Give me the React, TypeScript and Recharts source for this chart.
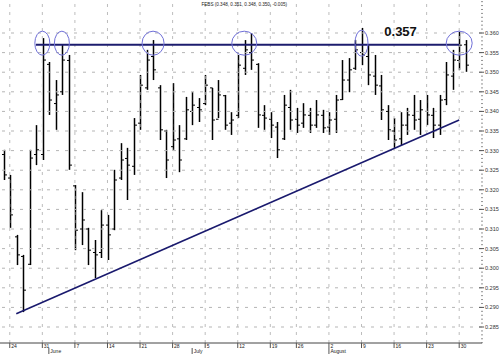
import React from 'react';
import { ComposedChart, Bar, XAxis, YAxis, ReferenceLine, ReferenceDot } from 'recharts';

// trading days (last two are empty slots at the right edge)
const dates = [
  '05-21', '05-24', '05-25', '05-26', '05-27', '05-28',
  '05-31', '06-01', '06-02', '06-03', '06-04',
  '06-07', '06-08', '06-09', '06-10', '06-11',
  '06-14', '06-15', '06-16', '06-17', '06-18',
  '06-21', '06-22', '06-23', '06-24', '06-25',
  '06-28', '06-29', '06-30', '07-01', '07-02',
  '07-05', '07-06', '07-07', '07-08', '07-09',
  '07-12', '07-13', '07-14', '07-15', '07-16',
  '07-19', '07-20', '07-21', '07-22',
  '07-26', '07-27', '07-28', '07-29', '07-30',
  '08-02', '08-03', '08-04', '08-05', '08-06',
  '08-09', '08-10', '08-11', '08-12', '08-13',
  '08-16', '08-17', '08-18', '08-19', '08-20',
  '08-23', '08-24', '08-25', '08-26', '08-27',
  '08-30', '08-31', '09-01', '09-02',
];

const opens = [
  0.329, 0.323, 0.308, 0.303, 0.301, 0.329, 0.329, 0.352, 0.342, 0.345,
  0.353, 0.321, 0.31, 0.31, 0.304, 0.304, 0.311, 0.31, 0.323, 0.328,
  0.326, 0.337, 0.346, 0.354, 0.346, 0.335, 0.331, 0.333, 0.333, 0.34,
  0.341, 0.342, 0.346, 0.338, 0.344, 0.337, 0.339, 0.351, 0.355, 0.352,
  0.339, 0.338, 0.336, 0.333, 0.341, 0.338, 0.337, 0.339, 0.3365, 0.339,
  0.336, 0.338, 0.343, 0.348, 0.351, 0.355, 0.354, 0.349, 0.3465, 0.34,
  0.335, 0.333, 0.3365, 0.339, 0.338, 0.34, 0.339, 0.3365, 0.343, 0.349,
  0.353, 0.357,
];
const highs = [
  0.3302, 0.3238, 0.3085, 0.3034, 0.3302, 0.3365, 0.3587, 0.3526, 0.348, 0.3572,
  0.3544, 0.3212, 0.3194, 0.3103, 0.3072, 0.3148, 0.3136, 0.3251, 0.3319, 0.3307,
  0.3383, 0.3493, 0.3557, 0.3582, 0.3467, 0.3353, 0.3472, 0.3365, 0.3437, 0.3449,
  0.3434, 0.3493, 0.346, 0.348, 0.3442, 0.3398, 0.3544, 0.3582, 0.36, 0.3523,
  0.3416, 0.3398, 0.3373, 0.3442, 0.3455, 0.3409, 0.3421, 0.3409, 0.3429, 0.3404,
  0.3398, 0.3442, 0.3531, 0.3536, 0.3582, 0.3613, 0.3569, 0.3544, 0.3493, 0.3416,
  0.3383, 0.3398, 0.3409, 0.3442, 0.3429, 0.3442, 0.3409, 0.3442, 0.3526, 0.3557,
  0.3603, 0.3582,
];
const lows = [
  0.3225, 0.3103, 0.3008, 0.2888, 0.3008, 0.3263, 0.3276, 0.3391, 0.3353, 0.3442,
  0.3251, 0.3046, 0.3059, 0.3008, 0.2975, 0.3026, 0.3021, 0.3097, 0.3225, 0.3174,
  0.3238, 0.3353, 0.3455, 0.348, 0.3327, 0.323, 0.3302, 0.3245, 0.3327, 0.3365,
  0.3373, 0.3416, 0.3327, 0.3383, 0.3353, 0.334, 0.3383, 0.3493, 0.3506, 0.3358,
  0.3353, 0.3332, 0.3281, 0.3327, 0.3353, 0.3345, 0.3358, 0.3345, 0.3358, 0.3345,
  0.334, 0.3345, 0.3429, 0.3449, 0.3506, 0.3518, 0.3467, 0.3442, 0.3378, 0.3327,
  0.3307, 0.3314, 0.334, 0.3353, 0.334, 0.3365, 0.3332, 0.334, 0.3416, 0.3455,
  0.3506, 0.3501,
];
const closes = [
  0.3238, 0.3136, 0.3034, 0.2944, 0.3281, 0.3302, 0.3531, 0.3429, 0.3442, 0.3531,
  0.3263, 0.3097, 0.3123, 0.3046, 0.3034, 0.311, 0.3085, 0.3225, 0.3276, 0.3263,
  0.3365, 0.3467, 0.3531, 0.3506, 0.3353, 0.3276, 0.3327, 0.3276, 0.3404, 0.3416,
  0.3404, 0.3467, 0.3378, 0.3442, 0.3365, 0.3378, 0.3518, 0.3557, 0.3531, 0.3391,
  0.3383, 0.3365, 0.3302, 0.3416, 0.3378, 0.3365, 0.3391, 0.3365, 0.3391, 0.3358,
  0.3378, 0.3429, 0.348, 0.3506, 0.3557, 0.3544, 0.3493, 0.3467, 0.3404, 0.3353,
  0.3327, 0.3365, 0.3391, 0.3378, 0.3404, 0.3391, 0.3365, 0.3429, 0.3493, 0.3531,
  0.3569, 0.3518,
];

const weekTicks = ['05-24', '05-31', '06-07', '06-14', '06-21', '06-28', '07-05', '07-12', '07-19', '07-26', '08-02', '08-09', '08-16', '08-23', '08-30'];
const weekLabels = ['24', '31', '7', '14', '21', '28', '5', '12', '19', '26', '2', '9', '16', '23', '30'];
const monthTicks = ['06-01', '07-01', '08-02'];
const monthLabels = ['June', 'July', 'August'];

const yMajor = [0.285, 0.29, 0.295, 0.3, 0.305, 0.31, 0.315, 0.32, 0.325, 0.33, 0.335, 0.34, 0.345, 0.35, 0.355, 0.36];
const yTicks = Array.from({ length: 88 }, (_, k) => Number((0.281 + k * 0.001).toFixed(3)));

const resistance = 0.357;
const resistanceFrom = '05-28';
const resistanceTo = '08-30';
const trendStart = { d: '05-25', v: 0.2884 };
const trendEnd = { d: '08-30', v: 0.3378 };
const peakDates = ['05-31', '06-03', '06-23', '07-13', '08-09', '08-30'];
const peakRx = [7.5, 7.5, 11, 12.5, 6.5, 13];
const peakRy = [12, 12, 12, 12, 13, 12];
const title = 'FEBS (0.348, 0.351, 0.348, 0.350, -0.005)';

const data = dates.map((d, i) => ({ d, open: opens[i], high: highs[i], low: lows[i], close: closes[i] }));

const OHLCBar = (props: any) => {
  const { x, y, width, height, payload } = props;
  if (payload.high == null || height == null) return null;
  const top = Math.min(y, y + height);
  const h = Math.abs(height);
  const cx = Math.round(x + width / 2) + 0.5;
  const span = payload.high - payload.low;
  const yo = top + (h * (payload.high - payload.open)) / span;
  const yc = top + (h * (payload.high - payload.close)) / span;
  return (
    <g>
      <line x1={cx} x2={cx} y1={top} y2={top + h} stroke="#000" strokeWidth={1.5} />
      <line x1={cx - 2.5} x2={cx} y1={yo} y2={yo} stroke="#000" strokeWidth={1} />
      <line x1={cx} x2={cx + 2.5} y1={yc} y2={yc} stroke="#000" strokeWidth={1} />
    </g>
  );
};

const XTick = (props: any) => {
  const { x, y, payload } = props;
  const wi = weekTicks.indexOf(payload.value);
  const mi = monthTicks.indexOf(payload.value);
  return (
    <g>
      {wi >= 0 && (
        <g>
          <line x1={x} x2={x} y1={y} y2={y + 5} stroke="#555" />
          <text x={x + 1.5} y={y + 4.8} fontSize={5} fill="#222">{weekLabels[wi]}</text>
        </g>
      )}
      {mi >= 0 && (
        <g>
          <line x1={x} x2={x} y1={y + 5} y2={y + 11} stroke="#555" />
          <text x={x + 1.5} y={y + 10.3} fontSize={5} fill="#222">{monthLabels[mi]}</text>
        </g>
      )}
    </g>
  );
};

const YTick = (props: any) => {
  const { x, y, payload } = props;
  const v = payload.value;
  const major = yMajor.some((m) => Math.abs(m - v) < 1e-6);
  if (!major) {
    return <line x1={x - 1} x2={x + 1} y1={y} y2={y} stroke="#777" strokeWidth={0.8} />;
  }
  return (
    <g>
      <line x1={x - 3} x2={x + 2} y1={y} y2={y} stroke="#555" />
      <text x={x + 3} y={y + 2} fontSize={5.5} fill="#333">{v.toFixed(3)}</text>
    </g>
  );
};

export default function App() {
  return (
    <div style={{ position: 'absolute', left: 0, top: 0, background: '#fff' }}>
      <ComposedChart
        width={500}
        height={354}
        data={data}
        margin={{ top: 0, right: 0, bottom: 0, left: 0 }}
        style={{ fontFamily: '"Liberation Sans", Arial, sans-serif' }}
      >
        <XAxis
          dataKey="d"
          ticks={[...weekTicks, '06-01', '07-01']}
          interval={0}
          tick={<XTick />}
          tickLine={false}
          tickSize={0}
          tickMargin={0}
          height={11}
          axisLine={{ stroke: '#444' }}
        />
        <YAxis
          orientation="right"
          type="number"
          width={18}
          domain={[0.28092, 0.36842]}
          allowDataOverflow
          ticks={yTicks}
          interval={0}
          tick={<YTick />}
          tickLine={false}
          tickSize={0}
          tickMargin={0}
          axisLine={false}
        />
        {yMajor.map((v) => (
          <ReferenceLine key={'h' + v} y={v} stroke="#b5b5b5" strokeDasharray="3 6" />
        ))}
        {weekTicks.map((d) => (
          <ReferenceLine key={'v' + d} x={d} stroke="#bdbdbd" strokeDasharray="3 5" />
        ))}
        <Bar dataKey={(e: any) => (e.high == null ? null : [e.low, e.high])} barSize={5} shape={<OHLCBar />} isAnimationActive={false} />
        <ReferenceLine
          segment={[{ x: resistanceFrom, y: resistance }, { x: resistanceTo, y: resistance }]}
          stroke="#1c1c6e"
          strokeWidth={2}
        />
        <ReferenceLine
          segment={[{ x: trendStart.d, y: trendStart.v }, { x: trendEnd.d, y: trendEnd.v }]}
          stroke="#1a1a6e"
          strokeWidth={1.6}
        />
        {peakDates.map((d, i) => (
          <ReferenceDot
            key={'p' + d}
            x={d}
            y={0.3574}
            r={1}
            shape={(p: any) => (
              <ellipse cx={p.cx} cy={p.cy} rx={peakRx[i]} ry={peakRy[i]} fill="none" stroke="#7070d8" strokeWidth={1} />
            )}
          />
        ))}
        <ReferenceDot
          x="08-17"
          y={0.3603}
          r={1}
          shape={(p: any) => (
            <text x={p.cx} y={p.cy} textAnchor="middle" dominantBaseline="central" fontSize={13} fontWeight="bold" fill="#111">
              {resistance.toFixed(3)}
            </text>
          )}
        />
        <ReferenceDot
          x="07-13"
          y={0.3672}
          r={1}
          shape={(p: any) => (
            <text x={p.cx} y={p.cy} textAnchor="middle" dominantBaseline="central" fontSize={4.6} fill="#222">
              {title}
            </text>
          )}
        />
      </ComposedChart>
    </div>
  );
}
